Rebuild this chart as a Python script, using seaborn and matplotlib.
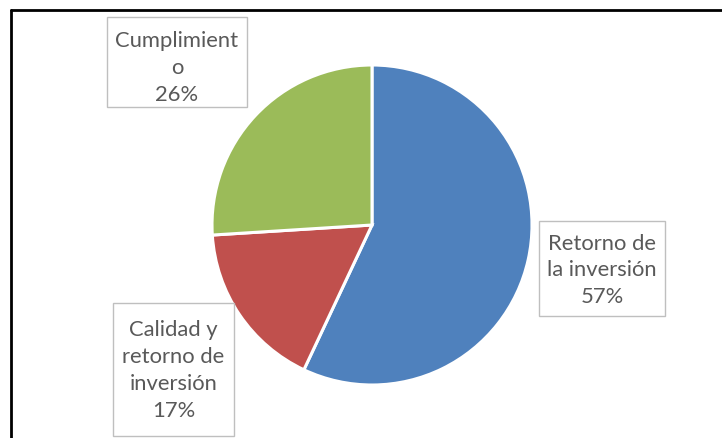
import matplotlib
matplotlib.use("Agg")
import matplotlib.pyplot as plt
import seaborn as sns
from matplotlib.patches import Rectangle
from matplotlib.lines import Line2D

sns.set_theme(style="white")
plt.rcParams['font.family'] = ['Lato', 'DejaVu Sans']

categories = ["Retorno de la inversión", "Calidad y retorno de inversión", "Cumplimiento"]
values = [57, 17, 26]
label_texts = ["Retorno de\nla inversión\n57%", "Calidad y\nretorno de\ninversión\n17%", "Cumplimient\no\n26%"]
colors = ["#4F81BD", "#C0504D", "#9BBB59"]

W, H = 722, 439
fig = plt.figure(figsize=(W / 100, H / 100), dpi=100)
fig.patch.set_facecolor("white")

# pie axes: centre (372, 226) px, radius 160 px
cx, cy, r = 372, 226, 160
ax = fig.add_axes([(cx - r) / W, (H - cy - r) / H, 2 * r / W, 2 * r / H])
ax.pie(values, colors=colors, startangle=90, counterclock=False,
       wedgeprops=dict(edgecolor="white", linewidth=2.2))
ax.set_xlim(-1, 1)
ax.set_ylim(-1, 1)
ax.axis("off")

# label boxes (pixel boxes: x0, y0, x1, y1 from top-left) and text centre offsets
boxes = [(539, 222, 665, 317), (113, 304, 234, 437), (107, 18, 247, 108)]
text_dy = [1, 0, 5]
for (x0, y0, x1, y1), dy, txt in zip(boxes, text_dy, label_texts):
    rect = Rectangle((x0 / W, 1 - y1 / H), (x1 - x0) / W, (y1 - y0) / H,
                     transform=fig.transFigure, facecolor="white",
                     edgecolor="#BFBFBF", linewidth=1.0)
    fig.add_artist(rect)
    fig.text((x0 + x1) / 2 / W, 1 - ((y0 + y1) / 2 + dy) / H, txt,
             ha="center", va="center", ma="center", fontsize=15.8,
             color="#595959", linespacing=1.42)

# chart frame (left and top edges visible)
fig.add_artist(Line2D([11 / W, 11 / W], [0, 1 - 11 / H], transform=fig.transFigure,
                      color="black", linewidth=2.0))
fig.add_artist(Line2D([11 / W, 1], [1 - 11 / H, 1 - 11 / H], transform=fig.transFigure,
                      color="black", linewidth=2.0))

fig.savefig("out.png", dpi=100, facecolor="white")
